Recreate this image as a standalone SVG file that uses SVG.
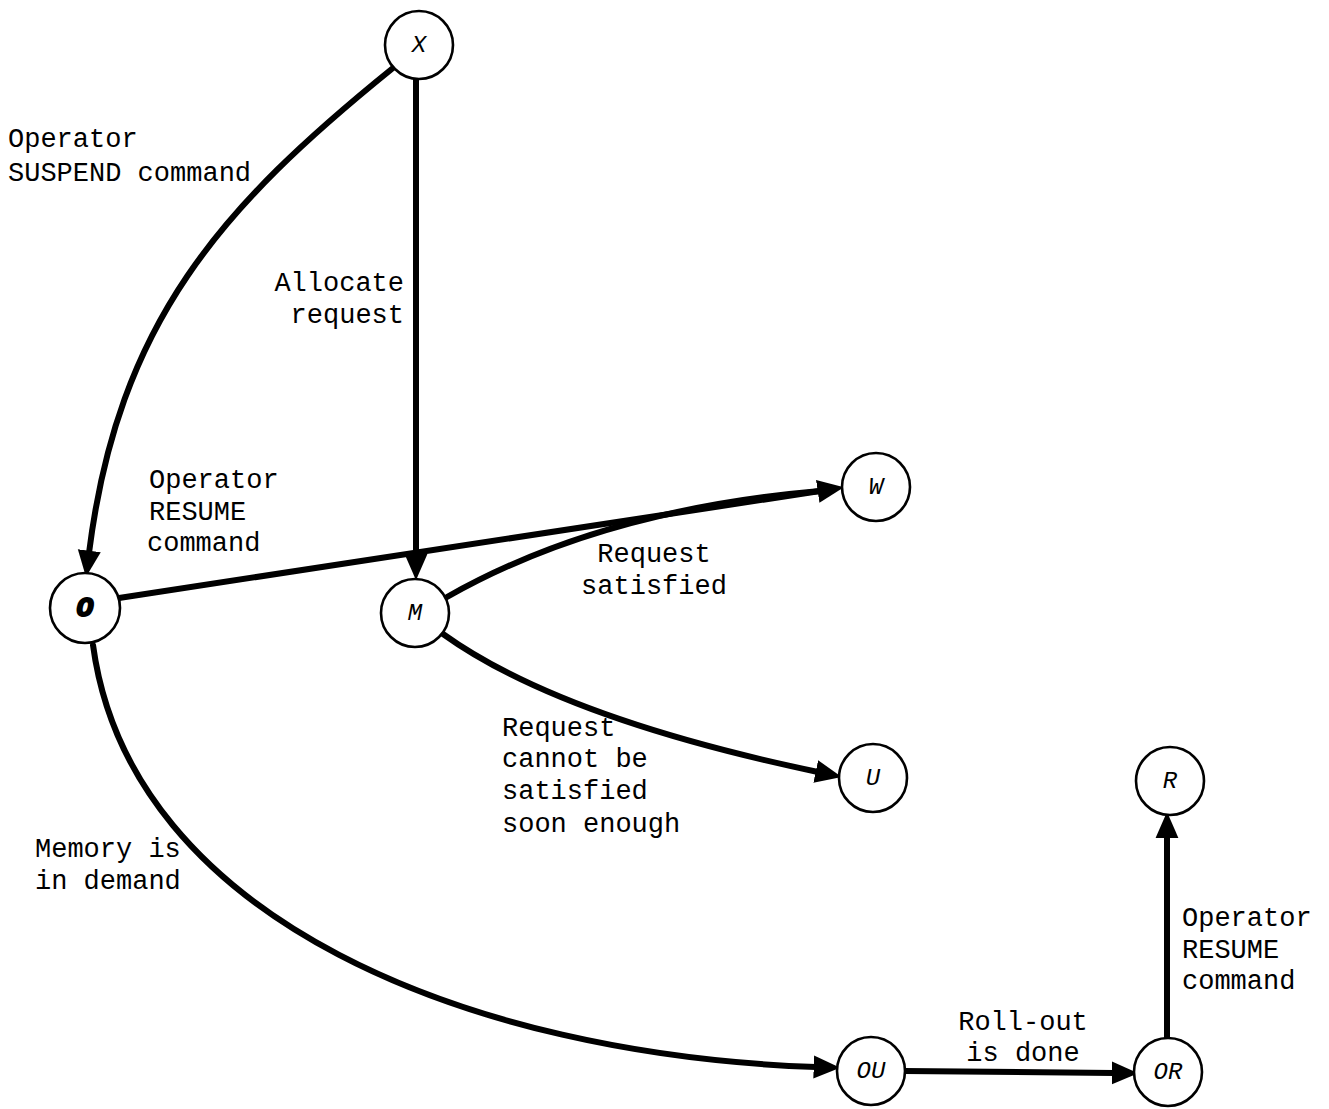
<svg xmlns="http://www.w3.org/2000/svg" width="1329" height="1109" viewBox="0 0 1329 1109">
<style>
.node circle{fill:#fff;stroke:#000;stroke-width:2.6}
.nl{font-family:"Liberation Mono","DejaVu Sans Mono",monospace;font-style:italic;font-size:24px;text-anchor:middle;dominant-baseline:central;fill:#000}
.edge{fill:none;stroke:#000;stroke-width:6;stroke-linecap:round}
.lbl{font-family:"Liberation Mono","Courier New",monospace;font-size:27px;fill:#000}
</style>
<defs>
<marker id="ah" markerUnits="userSpaceOnUse" markerWidth="30" markerHeight="30" viewBox="0 -12 26 24" refX="2" refY="0" orient="auto">
<path d="M0,-10 L23,0 L0,10 z" fill="#000"/>
</marker>
</defs>
<rect width="1329" height="1109" fill="#fff"/>
<g id="connectors">
<path class="edge" d="M393,68 C221,207 118,322 89,553" marker-end="url(#ah)"/>
<path class="edge" d="M416,79 L416,556" marker-end="url(#ah)"/>
<path class="edge" d="M119,598 L820,491" marker-end="url(#ah)"/>
<path class="edge" d="M447,597 Q600,510 820,491"/>
<path class="edge" d="M443,634 Q560,718 818,772" marker-end="url(#ah)"/>
<path class="edge" d="M93,645 C130,920 470,1055 816,1067" marker-end="url(#ah)"/>
<path class="edge" d="M904,1071 L1114,1073" marker-end="url(#ah)"/>
<path class="edge" d="M1167,1037 L1167,836" marker-end="url(#ah)"/>
</g>
<g id="node-X" class="node"><circle cx="419" cy="45" r="34"/><text class="nl" x="419" y="45">X</text></g>
<g id="node-O" class="node"><circle cx="85" cy="608" r="35"/><text class="nl" x="85" y="608" font-weight="bold" style="font-size:28px;stroke:#000;stroke-width:2">O</text></g>
<g id="node-M" class="node"><circle cx="415" cy="613" r="34"/><text class="nl" x="415" y="613">M</text></g>
<g id="node-W" class="node"><circle cx="876" cy="487" r="34"/><text class="nl" x="876" y="487">W</text></g>
<g id="node-U" class="node"><circle cx="873" cy="778" r="34"/><text class="nl" x="873" y="778">U</text></g>
<g id="node-R" class="node"><circle cx="1170" cy="781" r="34"/><text class="nl" x="1170" y="781">R</text></g>
<g id="node-OU" class="node"><circle cx="871" cy="1071" r="34"/><text class="nl" x="871" y="1071">OU</text></g>
<g id="node-OR" class="node"><circle cx="1168" cy="1072" r="34"/><text class="nl" x="1168" y="1072">OR</text></g>
<g id="labels">
<text class="lbl" x="8" y="147">Operator</text>
<text class="lbl" x="8" y="181">SUSPEND command</text>
<text class="lbl" x="404" y="291" text-anchor="end">Allocate</text>
<text class="lbl" x="404" y="323" text-anchor="end">request</text>
<text class="lbl" x="149" y="488">Operator</text>
<text class="lbl" x="149" y="520">RESUME</text>
<text class="lbl" x="147" y="551">command</text>
<text class="lbl" x="654" y="562" text-anchor="middle">Request</text>
<text class="lbl" x="654" y="594" text-anchor="middle">satisfied</text>
<text class="lbl" x="502" y="736">Request</text>
<text class="lbl" x="502" y="767">cannot be</text>
<text class="lbl" x="502" y="799">satisfied</text>
<text class="lbl" x="502" y="832">soon enough</text>
<text class="lbl" x="35" y="857">Memory is</text>
<text class="lbl" x="35" y="889">in demand</text>
<text class="lbl" x="1023" y="1030" text-anchor="middle">Roll-out</text>
<text class="lbl" x="1023" y="1061" text-anchor="middle">is done</text>
<text class="lbl" x="1182" y="926">Operator</text>
<text class="lbl" x="1182" y="958">RESUME</text>
<text class="lbl" x="1182" y="989">command</text>
</g>
</svg>
